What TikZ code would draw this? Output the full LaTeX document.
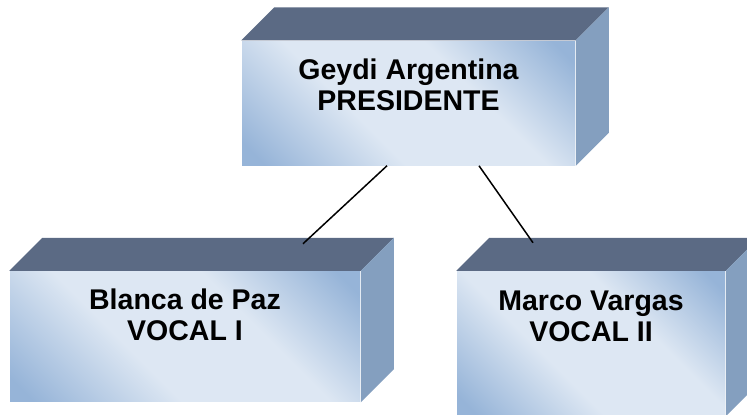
\documentclass[tikz,border=0pt]{standalone}
\usepackage{fontspec}
\setmainfont{Liberation Sans}
\usetikzlibrary{positioning}

\definecolor{cimaazul}{RGB}{91,106,132}
\definecolor{ladoazul}{RGB}{132,159,191}
\definecolor{frenteclaro}{RGB}{221,231,243}
\definecolor{frenteoscuro}{RGB}{150,180,216}
\pgfdeclareverticalshading{frente}{100bp}{color(0bp)=(frenteoscuro); color(18bp)=(frenteoscuro);
    color(40bp)=(frenteclaro); color(62bp)=(frenteclaro); color(82bp)=(frenteoscuro);
    color(100bp)=(frenteoscuro)}

\tikzstyle{caja} = [rectangle, shading=frente, shading angle=-45, inner sep=0pt]
\tikzstyle{rotulo} = [align=center, inner sep=0pt,
    font=\bfseries\fontsize{28.5}{31}\selectfont]

\begin{document}
\begin{tikzpicture}[x=1pt,y=-1pt,line width=1.5pt]
  \useasboundingbox (0,0) rectangle (747,415);

  \node[caja,minimum width=333pt,minimum height=124pt] (pres) at (408.5,103) {};
  \node[caja,minimum width=350pt,minimum height=130pt] (voc1) [below=105pt of pres,xshift=-223.5pt] {};
  \node[caja,minimum width=268pt,minimum height=144pt] (voc2) [below=105pt of pres,xshift=182.5pt] {};

  % caras de arriba y de la derecha
  \foreach \n in {pres,voc1,voc2} {
    \fill[cimaazul] (\n.north west) -- ++(33pt,33pt) -- ([shift={(33pt,33pt)}]\n.north east)
        -- (\n.north east) -- cycle;
    \fill[ladoazul] (\n.north east) -- ++(33pt,33pt) -- ([shift={(33pt,33pt)}]\n.south east)
        -- (\n.south east) -- cycle;
  }

  \node[rotulo] (pres-txt) at ([yshift=18pt]pres.center) {Geydi Argentina\\PRESIDENTE};
  \node[rotulo] (voc1-txt) at ([yshift=21.5pt]voc1.center) {Blanca de Paz\\VOCAL I};
  \node[rotulo] (voc2-txt) at ([yshift=27.5pt]voc2.center) {Marco Vargas\\VOCAL II};

  \draw ([xshift=-21.5pt]pres.south) -- ([xshift=118pt,yshift=27pt]voc1.north);
  \draw ([xshift=70.5pt]pres.south) -- ([xshift=-58pt,yshift=28pt]voc2.north);
\end{tikzpicture}
\end{document}
